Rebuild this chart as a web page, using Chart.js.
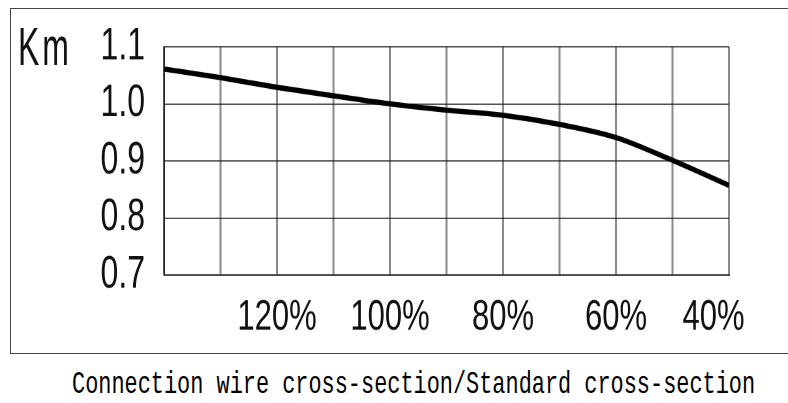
<!DOCTYPE html>
<html lang="en">
<head>
  <meta charset="UTF-8">
  <title>Km vs cross-section</title>
  <script src="https://cdn.jsdelivr.net/npm/chart.js"></script>
  <style>
    html, body {
      margin: 0;
      padding: 0;
      background: #ffffff;
      width: 788px;
      height: 403px;
      overflow: hidden;
      position: relative;
    }

    /* outer frame round the plot and the tick labels */
    .frame {
      position: absolute;
      left: 10px;
      top: 8px;
      width: 800px;
      height: 344px;
      border: 1px solid #444;
    }

    /* the reference is squeezed sideways, so the chart is drawn flat and stretched */
    .stretch {
      position: absolute;
      left: 0;
      top: 0;
      width: 777px;
      height: 246px;
      transform: scaleY(1.4);
      transform-origin: 0 0;
    }

    .unit {
      position: absolute;
      left: 18px;
      top: 19px;
      font-family: "Liberation Sans", Arial, sans-serif;
      font-size: 32px;
      line-height: 1;
      letter-spacing: 3px;
      color: #111;
      transform: scaleY(1.7);
      transform-origin: 0 0;
    }

    .xtitle {
      position: absolute;
      left: 72px;
      top: 370px;
      font-family: "Liberation Mono", "DejaVu Sans Mono", monospace;
      font-size: 21.9px;
      line-height: 1;
      white-space: nowrap;
      color: #000;
      transform: scaleY(1.45);
      transform-origin: 0 0;
    }
  </style>
</head>
<body>

<div class="frame">
  <div class="stretch">
    <canvas id="kmChart"></canvas>
  </div>
</div>
<div class="unit">Km</div>
<div class="xtitle">Connection wire cross-section/Standard cross-section</div>

<script>
  // cross-section ratio, % (axis runs from 140 down to 40)
  const ratios = [140, 130, 120, 110, 100, 90, 80, 70, 60, 50, 40];
  // correction factor Km
  const kmValues = [1.061, 1.046, 1.029, 1.014, 1.0, 0.989, 0.980, 0.964, 0.941, 0.901, 0.857];
  // labelled ticks
  const xLabels = [120, 100, 80, 60, 40];
  const yTicks = [0.7, 0.8, 0.9, 1.0, 1.1];

  const points = ratios.map((r, i) => ({ x: r, y: kmValues[i] }));

  const ctx = document.getElementById('kmChart').getContext('2d');
  const kmChart = new Chart(ctx, {
    type: 'line',
    data: {
      datasets: [{
        data: points,
        borderColor: '#000000',
        borderWidth: 3.8,
        pointRadius: 0,
        cubicInterpolationMode: 'monotone',
        fill: false
      }]
    },
    options: {
      responsive: true,
      maintainAspectRatio: false,
      animation: false,
      devicePixelRatio: 2,
      layout: {
        padding: { left: 0, top: 27, right: 59, bottom: 0 }
      },
      plugins: {
        legend: { display: false },
        tooltip: { enabled: false }
      },
      scales: {
        x: {
          type: 'linear',
          reverse: true,
          min: 40,
          max: 140,
          afterFit: (scale) => {
            scale.height = 56;
            scale.paddingLeft = 0;
            scale.paddingRight = 0;
          },
          afterBuildTicks: (scale) => {
            scale.ticks = ratios.map(v => ({ value: v }));
          },
          ticks: {
            autoSkip: false,
            maxRotation: 0,
            minRotation: 0,
            padding: 12,
            color: '#111',
            font: { family: '"Liberation Sans", Arial, sans-serif', size: 31 },
            // the last label sits a little left of its grid line in the original
            callback: (v) => xLabels.includes(v) ? v + '%' + (v === 40 ? '\u2003' : '') : ''
          },
          grid: {
            drawTicks: false,
            color: '#8a8a8a',
            lineWidth: 2
          },
          border: { color: '#222', width: 1 }
        },
        y: {
          min: 0.7,
          max: 1.1,
          afterFit: (scale) => {
            scale.width = 153;
            scale.paddingTop = 0;
            scale.paddingBottom = 0;
          },
          afterBuildTicks: (scale) => {
            scale.ticks = yTicks.map(v => ({ value: v }));
          },
          ticks: {
            autoSkip: false,
            padding: 19,
            color: '#111',
            font: { family: '"Liberation Sans", Arial, sans-serif', size: 32 },
            callback: (v) => v.toFixed(1)
          },
          grid: {
            drawTicks: false,
            color: '#1a1a1a',
            lineWidth: 0.8
          },
          border: { color: '#1a1a1a', width: 1.4 }
        }
      }
    }
  });
</script>

</body>
</html>
